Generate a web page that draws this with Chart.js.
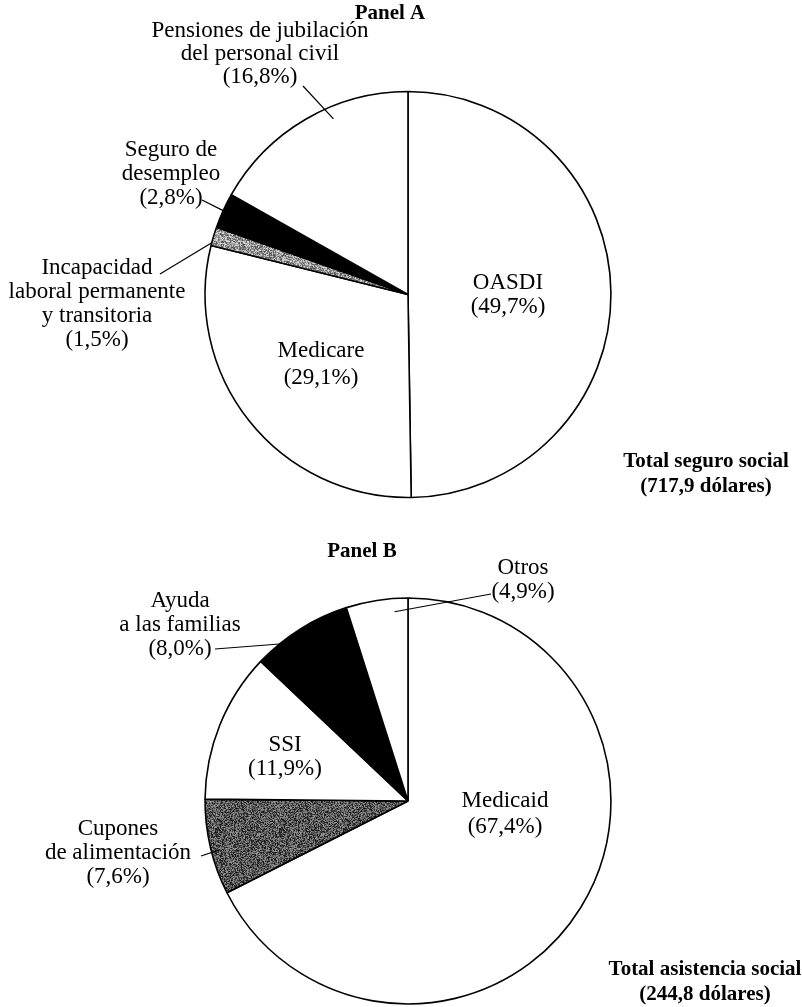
<!DOCTYPE html>
<html><head><meta charset="utf-8">
<script src="https://cdn.jsdelivr.net/npm/chart.js@4.4.1/dist/chart.umd.min.js"></script>
<style>
html,body{margin:0;padding:0;background:#fff;}
#wrap{position:relative;width:802px;height:1007px;overflow:hidden;}
canvas{position:absolute;left:0;}
#cA{top:0}
#cB{top:520px}
</style></head><body>
<div id="wrap"><canvas id="cA" width="802" height="520"></canvas><canvas id="cB" width="802" height="487"></canvas></div>
<script>
// ---------- data ----------
const titleA = 'Panel A';
const categoriesA = ['OASDI', 'Medicare', 'Incapacidad laboral permanente y transitoria', 'Seguro de desempleo', 'Pensiones de jubilación del personal civil'];
const valuesA = [49.7, 29.1, 1.5, 2.8, 16.8];
const labelLinesA = [['OASDI'], ['Medicare'], ['Incapacidad', 'laboral permanente', 'y transitoria'], ['Seguro de', 'desempleo'], ['Pensiones de jubilación', 'del personal civil']];
const totalA = ['Total seguro social', '(717,9 dólares)'];

const titleB = 'Panel B';
const categoriesB = ['Medicaid', 'Cupones de alimentación', 'SSI', 'Ayuda a las familias', 'Otros'];
const valuesB = [67.4, 7.6, 11.9, 8.0, 4.9];
const labelLinesB = [['Medicaid'], ['Cupones', 'de alimentación'], ['SSI'], ['Ayuda', 'a las familias'], ['Otros']];
const totalB = ['Total asistencia social', '(244,8 dólares)'];

// ---------- styling / layout ----------
const FONT = '"Liberation Serif", "Times New Roman", serif';
const LH = 24;

function stipple(base, amp, seed) {
  const c = document.createElement('canvas'); c.width = c.height = 64;
  const g = c.getContext('2d'); const img = g.createImageData(64, 64);
  let s = seed;
  for (let i = 0; i < 64 * 64; i++) {
    s = (s * 1103515245 + 12345) & 0x7fffffff;
    const n = ((s >> 8) % 1000) / 1000;
    let v = base + (n - 0.5) * amp;
    v = Math.max(0, Math.min(255, v));
    img.data[i * 4] = img.data[i * 4 + 1] = img.data[i * 4 + 2] = v; img.data[i * 4 + 3] = 255;
  }
  g.putImageData(img, 0, 0);
  return g.createPattern(c, 'repeat');
}
const pctxt = v => '(' + v.toFixed(1).replace('.', ',') + '%)';

// label layout: block centre x, first line y, optional leader (start point, fraction along slice, fraction of radius)
const layoutA = [
  {x: 508, y: 283},
  {x: 321, y: 351, lh: 27},
  {x: 97, y: 268, leader: {from: [160, 274], f: 0.15, g: 1.0}},
  {x: 171, y: 150, leader: {from: [202, 200], f: 0.5, g: 1.0}},
  {x: 260, y: 31, lh: 23, leader: {from: [303, 86], f: 0.62, g: 0.94}}
];
const layoutB = [
  {x: 505, y: 281, lh: 26},
  {x: 118, y: 309, leader: {from: [201, 336], f: 0.45, g: 0.96}},
  {x: 285, y: 225},
  {x: 180, y: 81, leader: {from: [215, 129], f: 0.25, g: 1.0}},
  {x: 523, y: 48, leader: {from: [491, 74], f: 0.77, g: 0.935}}
];

function labelPlugin(title, titlePos, lines, values, layout, total, totalPos) {
  return {
    id: 'labels',
    afterDraw(chart) {
      const ctx = chart.ctx;
      const arcs = chart.getDatasetMeta(0).data;
      ctx.save();
      ctx.fillStyle = '#000'; ctx.strokeStyle = '#000';
      ctx.textAlign = 'center'; ctx.textBaseline = 'middle';
      ctx.font = 'bold 21px ' + FONT;
      ctx.fillText(title, titlePos[0], titlePos[1]);
      total.forEach((t, i) => ctx.fillText(t, totalPos[0], totalPos[1] + i * 25));
      ctx.font = '23px ' + FONT;
      values.forEach((v, i) => {
        const L = layout[i];
        const txt = lines[i].concat([pctxt(v)]);
        const lh = L.lh || LH;
        txt.forEach((t, k) => ctx.fillText(t, L.x, L.y + k * lh));
        if (L.leader) {
          const a = arcs[i];
          const ang = a.startAngle + L.leader.f * (a.endAngle - a.startAngle);
          const r = a.outerRadius * L.leader.g;
          ctx.lineWidth = 1.2;
          ctx.beginPath();
          ctx.moveTo(L.leader.from[0], L.leader.from[1]);
          ctx.lineTo(a.x + Math.cos(ang) * r, a.y + Math.sin(ang) * r);
          ctx.stroke();
        }
      });
      ctx.restore();
    }
  };
}

const commonOpts = (pad) => ({
  responsive: false, animation: false, events: [],
  layout: {padding: pad},
  plugins: {legend: {display: false}, tooltip: {enabled: false}}
});

new Chart(document.getElementById('cA'), {
  type: 'pie',
  data: {labels: categoriesA, datasets: [{
    data: valuesA,
    backgroundColor: ['#ffffff', '#ffffff', stipple(150, 150, 7), '#000000', '#ffffff'],
    borderColor: '#000', borderWidth: 1.6, hoverBorderWidth: 1.6
  }]},
  options: commonOpts({left: 14, right: 0, top: 90.75, bottom: 21.75}),
  plugins: [labelPlugin(titleA, [390, 14], labelLinesA, valuesA, layoutA, totalA, [706, 462])]
});

new Chart(document.getElementById('cB'), {
  type: 'pie',
  data: {labels: categoriesB, datasets: [{
    data: valuesB,
    backgroundColor: ['#ffffff', stipple(85, 140, 11), '#ffffff', '#000000', '#ffffff'],
    borderColor: '#000', borderWidth: 1.6, hoverBorderWidth: 1.6
  }]},
  options: commonOpts({left: 14, right: 0, top: 77.25, bottom: 2.25}),
  plugins: [labelPlugin(titleB, [362, 32], labelLinesB, valuesB, layoutB, totalB, [705, 450])]
});
</script>
</body></html>
